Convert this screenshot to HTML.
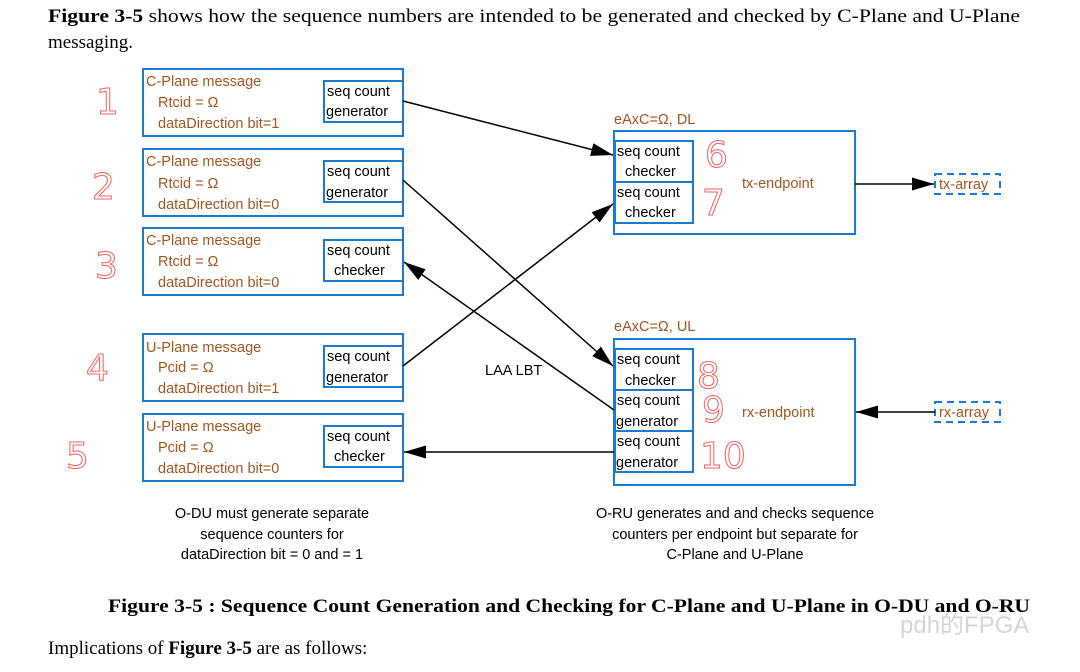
<!DOCTYPE html>
<html><head><meta charset="utf-8"><style>
html,body{margin:0;padding:0;background:#fff;}
svg{display:block;}
.s{font-family:"Liberation Serif",serif;font-size:19px;fill:#000;}
.o{font-family:"Liberation Sans",sans-serif;font-size:14.5px;fill:#a0561e;}
.k{font-family:"Liberation Sans",sans-serif;font-size:14.5px;fill:#000;}
.r{font-family:"DejaVu Sans",sans-serif;font-size:36px;fill:none;stroke:#f06060;stroke-width:1;}
.b{fill:none;stroke:#1a7ad0;stroke-width:2;}
.l{stroke:#000;stroke-width:1.5;fill:none;}
</style></head><body>
<svg width="1080" height="672" viewBox="0 0 1080 672" xmlns="http://www.w3.org/2000/svg">
<defs>
<marker id="a2" markerWidth="22" markerHeight="13" refX="22" refY="6.5" orient="auto" markerUnits="userSpaceOnUse"><path d="M0,0 L22,6.5 L0,13 z" fill="#000"/></marker></defs>
<text class="s" x="48" y="22" textLength="972" lengthAdjust="spacingAndGlyphs"><tspan font-weight="bold">Figure 3-5</tspan> shows how the sequence numbers are intended to be generated and checked by C-Plane and U-Plane</text>
<text class="s" x="48" y="48">messaging.</text>

<g>
<rect class="b" x="143" y="69" width="260" height="67"/><rect class="b" x="324" y="81" width="79" height="41"/>
<text class="o" x="146" y="86">C-Plane message</text><text class="o" x="158" y="107">Rtcid = Ω</text><text class="o" x="158" y="128">dataDirection bit=1</text>
<text class="k" x="327" y="96">seq count</text><text class="k" x="326" y="116">generator</text>

<rect class="b" x="143" y="149" width="260" height="67"/><rect class="b" x="324" y="161" width="79" height="41"/>
<text class="o" x="146" y="166">C-Plane message</text><text class="o" x="158" y="188">Rtcid = Ω</text><text class="o" x="158" y="209">dataDirection bit=0</text>
<text class="k" x="327" y="176">seq count</text><text class="k" x="326" y="197">generator</text>

<rect class="b" x="143" y="228" width="260" height="67"/><rect class="b" x="324" y="240" width="79" height="41"/>
<text class="o" x="146" y="245">C-Plane message</text><text class="o" x="158" y="266">Rtcid = Ω</text><text class="o" x="158" y="287">dataDirection bit=0</text>
<text class="k" x="327" y="255">seq count</text><text class="k" x="334" y="275">checker</text>

<rect class="b" x="143" y="334" width="260" height="67"/><rect class="b" x="324" y="346" width="79" height="41"/>
<text class="o" x="146" y="352">U-Plane message</text><text class="o" x="158" y="372">Pcid = Ω</text><text class="o" x="158" y="393">dataDirection bit=1</text>
<text class="k" x="327" y="361">seq count</text><text class="k" x="326" y="382">generator</text>

<rect class="b" x="143" y="414" width="260" height="67"/><rect class="b" x="324" y="426" width="79" height="41"/>
<text class="o" x="146" y="431">U-Plane message</text><text class="o" x="158" y="452">Pcid = Ω</text><text class="o" x="158" y="473">dataDirection bit=0</text>
<text class="k" x="327" y="441">seq count</text><text class="k" x="334" y="461">checker</text>
</g>

<text class="o" x="614" y="124">eAxC=Ω, DL</text>
<rect class="b" x="614" y="131" width="241" height="103"/>
<rect class="b" x="615" y="141" width="78" height="41"/><rect class="b" x="615" y="182" width="78" height="41"/>
<text class="k" x="617" y="156">seq count</text><text class="k" x="625" y="176">checker</text>
<text class="k" x="617" y="197">seq count</text><text class="k" x="625" y="217">checker</text>
<text class="o" x="742" y="188">tx-endpoint</text>

<text class="o" x="614" y="331">eAxC=Ω, UL</text>
<rect class="b" x="614" y="339" width="241" height="146"/>
<rect class="b" x="615" y="349" width="78" height="41"/><rect class="b" x="615" y="390" width="78" height="41"/><rect class="b" x="615" y="431" width="78" height="41"/>
<text class="k" x="617" y="364">seq count</text><text class="k" x="625" y="385">checker</text>
<text class="k" x="617" y="405">seq count</text><text class="k" x="616" y="426">generator</text>
<text class="k" x="617" y="446">seq count</text><text class="k" x="616" y="467">generator</text>
<text class="o" x="742" y="417">rx-endpoint</text>

<rect x="935" y="174" width="65" height="20" fill="none" stroke="#1a7ad0" stroke-width="2" stroke-dasharray="7,5"/>
<text class="o" x="939" y="189">tx-array</text>
<rect x="935" y="402" width="65" height="20" fill="none" stroke="#1a7ad0" stroke-width="2" stroke-dasharray="7,5"/>
<text class="o" x="939" y="417">rx-array</text>

<line class="l" x1="403" y1="101" x2="613" y2="155" marker-end="url(#a2)"/>
<line class="l" x1="403" y1="180" x2="613" y2="366" marker-end="url(#a2)"/>
<line class="l" x1="614" y1="410" x2="404" y2="262" marker-end="url(#a2)"/>
<line class="l" x1="403" y1="366" x2="613" y2="204" marker-end="url(#a2)"/>
<line class="l" x1="614" y1="452" x2="404" y2="452" marker-end="url(#a2)"/>
<line class="l" x1="855" y1="184" x2="934" y2="184" marker-end="url(#a2)"/>
<line class="l" x1="935" y1="412" x2="856" y2="412" marker-end="url(#a2)"/>
<text class="k" x="485" y="375">LAA LBT</text>

<text class="k" x="272" y="518" text-anchor="middle">O-DU must generate separate</text>
<text class="k" x="272" y="539" text-anchor="middle">sequence counters for</text>
<text class="k" x="272" y="559" text-anchor="middle">dataDirection bit = 0 and = 1</text>
<text class="k" x="735" y="518" text-anchor="middle">O-RU generates and and checks sequence</text>
<text class="k" x="735" y="539" text-anchor="middle">counters per endpoint but separate for</text>
<text class="k" x="735" y="559" text-anchor="middle">C-Plane and U-Plane</text>

<text class="r" x="96" y="114">1</text>
<text class="r" x="92" y="199">2</text>
<text class="r" x="95" y="278">3</text>
<text class="r" x="86" y="380">4</text>
<text class="r" x="66" y="468" font-size="50">5</text>
<text class="r" x="705" y="167">6</text>
<text class="r" x="702" y="215">7</text>
<text class="r" x="697" y="388">8</text>
<text class="r" x="702" y="422">9</text>
<text class="r" x="700" y="468">10</text>

<text class="s" x="108" y="612" font-weight="bold" textLength="922" lengthAdjust="spacingAndGlyphs">Figure 3-5 : Sequence Count Generation and Checking for C-Plane and U-Plane in O-DU and O-RU</text>
<text x="900" y="633" font-family="Liberation Sans,sans-serif" font-size="24" fill="#ccc" opacity="0.8">pdh的FPGA</text>
<text class="s" x="48" y="654">Implications of <tspan font-weight="bold">Figure 3-5</tspan> are as follows:</text>
</svg>
</body></html>
